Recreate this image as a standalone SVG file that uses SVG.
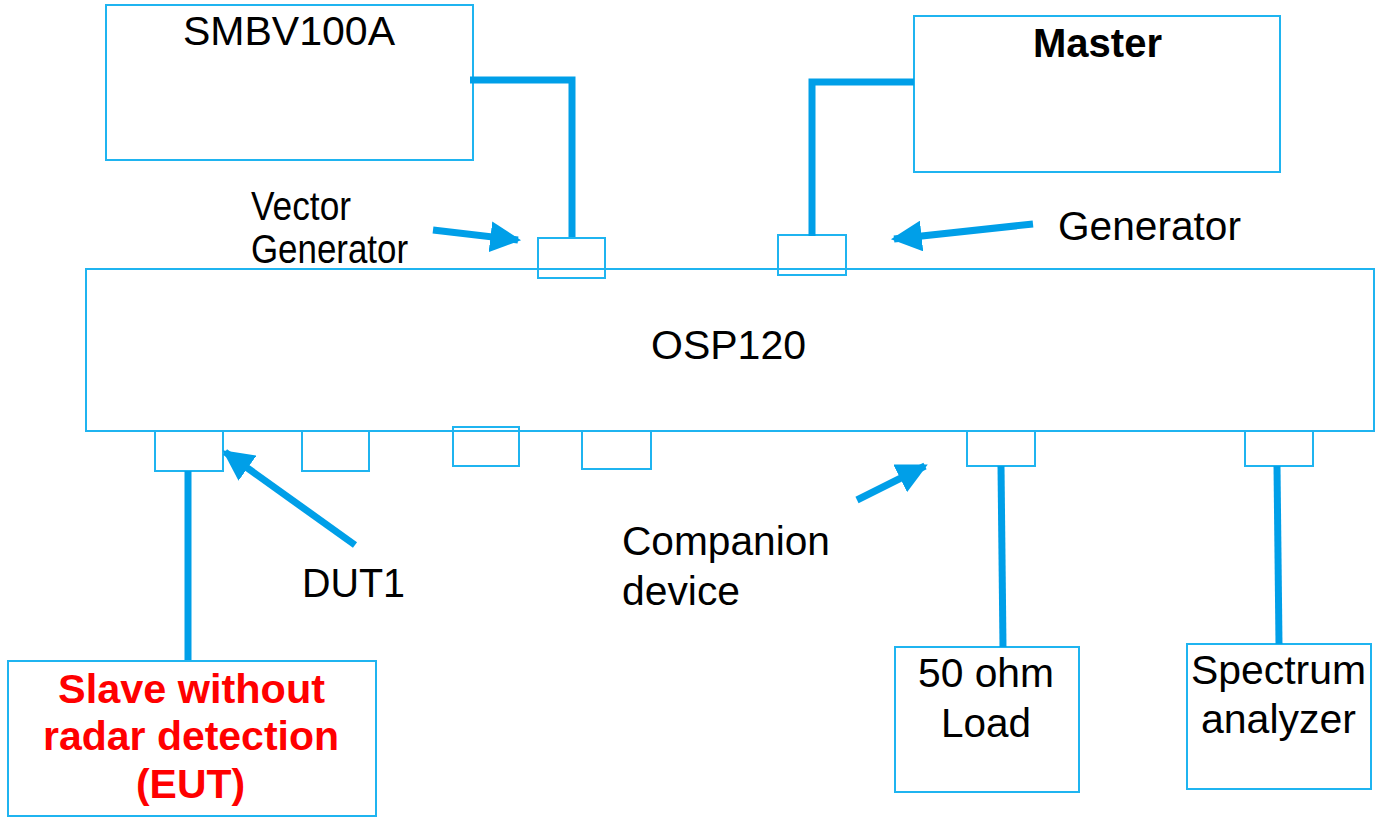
<svg xmlns="http://www.w3.org/2000/svg" width="1383" height="817" viewBox="0 0 1383 817">
<style>
.box{fill:#fff;stroke:#1fb4f0;stroke-width:2}
.port{fill:none;stroke:#1fb4f0;stroke-width:2}
.wire{fill:none;stroke:#009fe8;stroke-width:7}
.t{font-family:"Liberation Sans",Arial,sans-serif;font-size:40px;fill:#000}
.r{font-weight:bold;fill:#ff0000}
</style>
<defs>
<marker id="ah" viewBox="0 0 10 10" refX="9" refY="5" markerWidth="4.4" markerHeight="4.4" markerUnits="strokeWidth" orient="auto">
<path d="M0,0 L10,5 L0,10 z" fill="#009fe8"/>
</marker>
</defs>
<rect width="1383" height="817" fill="#fff"/>
<g id="smbv"><rect class="box" x="106" y="5" width="367" height="155"/><text class="t" x="183" y="45" textLength="212" lengthAdjust="spacingAndGlyphs">SMBV100A</text></g>
<g id="master"><rect class="box" x="914" y="16" width="366" height="156"/><text class="t" x="1033" y="57" font-weight="bold" textLength="129" lengthAdjust="spacingAndGlyphs">Master</text></g>
<g id="osp"><rect class="box" x="86" y="269" width="1288" height="162"/><text class="t" x="651" y="359" textLength="155" lengthAdjust="spacingAndGlyphs">OSP120</text></g>
<g id="ports">
<rect class="port" x="538" y="238" width="67" height="40"/>
<rect class="port" x="778" y="235" width="68" height="40"/>
<rect class="port" x="155" y="431" width="68" height="40"/>
<rect class="port" x="302" y="431" width="67" height="40"/>
<rect class="port" x="453" y="427" width="66" height="39"/>
<rect class="port" x="582" y="431" width="69" height="38"/>
<rect class="port" x="967" y="431" width="68" height="35"/>
<rect class="port" x="1245" y="431" width="68" height="35"/>
</g>
<g id="slave"><rect class="box" x="8" y="661" width="368" height="155"/>
<text class="t r" x="58" y="703" textLength="267" lengthAdjust="spacingAndGlyphs">Slave without</text>
<text class="t r" x="43" y="750" textLength="296" lengthAdjust="spacingAndGlyphs">radar detection</text>
<text class="t r" x="136" y="798" textLength="109" lengthAdjust="spacingAndGlyphs">(EUT)</text></g>
<g id="load"><rect class="box" x="895" y="647" width="184" height="145"/><text class="t" x="918" y="687" textLength="136" lengthAdjust="spacingAndGlyphs">50 ohm</text><text class="t" x="941" y="737" textLength="90" lengthAdjust="spacingAndGlyphs">Load</text></g>
<g id="spectrum"><rect class="box" x="1187" y="644" width="184" height="145"/><text class="t" x="1191" y="684" textLength="175" lengthAdjust="spacingAndGlyphs">Spectrum</text><text class="t" x="1201" y="733" textLength="155" lengthAdjust="spacingAndGlyphs">analyzer</text></g>
<g id="labels">
<text class="t" x="251" y="220" font-size="34" textLength="100" lengthAdjust="spacingAndGlyphs">Vector</text>
<text class="t" x="251" y="263" font-size="34" textLength="157" lengthAdjust="spacingAndGlyphs">Generator</text>
<text class="t" x="1058" y="240" textLength="183" lengthAdjust="spacingAndGlyphs">Generator</text>
<text class="t" x="302" y="597" textLength="103" lengthAdjust="spacingAndGlyphs">DUT1</text>
<text class="t" x="622" y="555" textLength="208" lengthAdjust="spacingAndGlyphs">Companion</text>
<text class="t" x="622" y="605" textLength="118" lengthAdjust="spacingAndGlyphs">device</text>
</g>
<g id="connectors">
<polyline class="wire" points="470,80 572,80 572,237"/>
<polyline class="wire" points="914,82 812,82 812,236"/>
<line class="wire" x1="188" y1="471" x2="188" y2="660"/>
<line class="wire" x1="1001" y1="466" x2="1003" y2="647"/>
<line class="wire" x1="1277" y1="466" x2="1279" y2="644"/>
<line class="wire" x1="433" y1="230" x2="518" y2="240" marker-end="url(#ah)"/>
<line class="wire" x1="1033" y1="224" x2="894" y2="239" marker-end="url(#ah)"/>
<line class="wire" x1="355" y1="545" x2="225" y2="452" marker-end="url(#ah)"/>
<line class="wire" x1="857" y1="500" x2="925" y2="466" marker-end="url(#ah)"/>
</g>
</svg>
